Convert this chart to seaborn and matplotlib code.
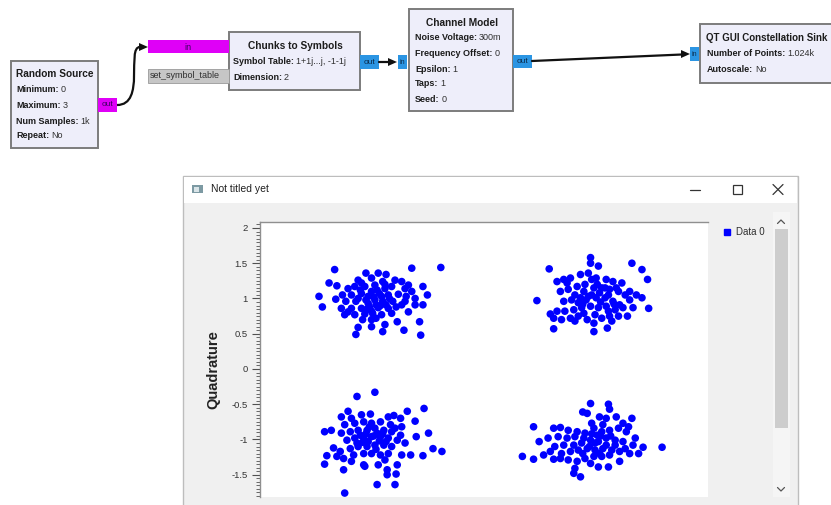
import matplotlib
matplotlib.use("Agg")
import matplotlib.pyplot as plt
import seaborn as sns
import pandas as pd
from matplotlib.patches import Rectangle, Polygon, PathPatch
from matplotlib.path import Path
from matplotlib.lines import Line2D
from matplotlib.ticker import MultipleLocator

# ---------------- data ----------------
# upper-left cluster (symbol -1+1j)
ul_i = [-1.35, -0.66, -0.40, -1.49, -1.46, -1.40, -1.33, -1.34, -1.16, -1.14, -0.92, -0.79, -0.73, -0.58,
        -0.59, -0.52, -0.56, -0.63, -0.56, -0.69, -0.90, -1.02,
        -1.07, -0.96, -0.89, -1.14, -1.02, -0.92, -0.81, -0.75, -1.23, -1.17, -1.08, -0.99, -0.90, -0.84,
        -0.72, -0.66, -1.28, -1.20, -1.11, -1.02, -0.95, -0.87, -0.78, -0.71, -1.25, -1.16, -1.07, -0.99,
        -0.92, -0.83, -0.75, -1.29, -1.20, -1.11, -1.04, -0.96, -0.87, -0.80, -1.26, -1.17, -1.08, -1.01,
        -0.93, -0.84, -1.10, -1.02, -0.98, -1.14, -1.05, -0.93, -0.98, -0.89, -1.07, -1.23, -0.72, -0.63,
        -0.69, -1.11, -1.00, -0.97, -1.05, -0.94, -1.12, -0.86, -1.02, -0.90]
ul_q = [1.41, 1.43, 1.44, 1.03, 0.88, 1.22, 1.18, 0.99, 0.49, 0.59, 0.53, 0.67, 0.55, 0.48,
        0.67, 1.05, 1.17, 0.91, 0.91, 0.81, 0.63, 0.60,
        1.36, 1.36, 1.34, 1.26, 1.29, 1.24, 1.26, 1.24, 1.14, 1.17, 1.17, 1.19, 1.14, 1.17,
        1.14, 1.10, 1.05, 1.05, 1.07, 1.10, 1.07, 1.05, 1.06, 1.03, 0.96, 0.96, 0.98, 0.98,
        0.96, 0.96, 0.91, 0.86, 0.86, 0.86, 0.88, 0.87, 0.86, 0.88, 0.77, 0.77, 0.78, 0.79,
        0.77, 0.79, 0.70, 0.70, 0.72, 1.00, 1.03, 1.03, 0.91, 0.91, 0.84, 0.81, 0.96, 1.00,
        1.19, 1.22, 1.02, 1.12, 0.93, 0.90, 1.12, 1.00, 0.82, 1.20]

# upper-right cluster (symbol 1+1j)
ur_i = [0.94, 0.57, 1.31, 1.40, 1.45, 0.46, 1.46, 0.61, 0.97, 1.09, 1.27, 1.19, 0.58, 0.94, 1.01,
        0.64, 0.70, 0.76, 0.85, 0.92, 0.99, 1.08, 1.14, 1.22, 1.29, 1.35, 1.40, 0.67, 0.74, 0.82,
        0.89, 0.97, 1.04, 1.11, 1.19, 1.25, 0.70, 0.77, 0.85, 0.92, 0.99, 1.07, 1.14, 1.20, 1.29,
        0.64, 0.71, 0.79, 0.86, 0.94, 1.01, 1.08, 1.16, 1.23, 0.61, 0.68, 0.76, 0.83, 0.91, 0.97,
        1.04, 1.11, 0.80, 0.88, 1.02, 0.95, 1.07, 0.88, 0.83, 0.98, 1.10, 1.17, 0.73, 1.32, 1.13,
        0.95, 1.03, 0.90, 1.10, 0.80, 1.00, 0.87, 1.15]
ur_q = [1.58, 1.42, 1.50, 1.41, 1.27, 0.97, 0.86, 0.57, 0.53, 0.58, 0.75, 0.75, 0.78, 1.50, 1.46,
        1.24, 1.27, 1.29, 1.34, 1.36, 1.29, 1.27, 1.24, 1.22, 1.10, 1.05, 1.01, 1.10, 1.13, 1.17,
        1.20, 1.15, 1.15, 1.13, 1.10, 1.05, 0.96, 0.98, 1.01, 1.03, 1.01, 1.01, 0.96, 0.91, 0.98,
        0.82, 0.82, 0.84, 0.87, 0.89, 0.87, 0.89, 0.84, 0.87, 0.72, 0.70, 0.72, 0.75, 0.70, 0.65,
        0.72, 0.75, 0.68, 0.79, 1.08, 1.27, 1.15, 1.10, 0.94, 0.77, 0.82, 1.15, 1.22, 0.87, 0.68,
        1.05, 0.95, 0.98, 1.05, 1.05, 1.20, 0.92, 0.92]

# lower-left cluster (symbol -1-1j)
ll_i = [-0.99, -1.15, -0.55, -1.44, -1.38, -1.36, -1.42, -1.44, -1.27, -0.97, -0.81, -1.26, -0.39, -0.47,
        -0.56, -0.51, -0.62, -0.63, -0.70, -0.67, -0.88, -0.80, -1.08, -1.23,
        -1.29, -1.20, -1.11, -1.03, -0.87, -0.82, -0.76, -1.26, -1.17, -1.09, -1.02, -0.94, -0.85, -0.75,
        -1.29, -1.21, -1.14, -1.06, -0.99, -0.91, -0.84, -0.76, -1.24, -1.17, -1.09, -1.02, -0.94, -0.87,
        -0.79, -0.72, -1.30, -1.21, -1.14, -1.06, -0.99, -0.91, -0.84, -0.75, -1.27, -1.18, -1.09, -1.02,
        -0.94, -0.87, -0.79, -1.09, -0.96, -0.88, -1.12, -0.97, -1.05, -0.90, -1.20, -1.33, -0.81, -1.15,
        -1.00, -0.95, -1.07, -0.92, -1.10, -0.98, -1.04, -0.89]
ll_q = [-0.33, -0.39, -0.56, -0.89, -0.87, -1.12, -1.23, -1.35, -1.43, -1.64, -1.64, -1.76, -1.17, -1.13,
        -1.23, -0.91, -0.96, -0.74, -0.60, -1.22, -1.50, -1.49, -1.38, -0.60,
        -0.68, -0.70, -0.65, -0.64, -0.68, -0.66, -0.70, -0.79, -0.77, -0.75, -0.77, -0.75, -0.79, -0.82,
        -0.91, -0.89, -0.87, -0.87, -0.84, -0.87, -0.89, -0.94, -1.01, -0.98, -0.98, -0.96, -0.96, -0.98,
        -1.01, -1.05, -1.17, -1.13, -1.10, -1.10, -1.08, -1.08, -1.10, -1.22, -1.27, -1.22, -1.20, -1.20,
        -1.22, -1.20, -1.36, -1.36, -1.36, -1.43, -0.94, -0.91, -1.03, -1.29, -1.31, -1.24, -0.84, -1.05,
        -0.95, -1.02, -0.92, -0.92, -1.04, -1.14, -0.82, -1.03]

# lower-right cluster (symbol 1-1j)
lr_i = [0.94, 1.10, 0.87, 1.11, 0.43, 0.33, 0.43, 0.52, 0.61, 1.58, 1.41, 1.31, 1.20, 0.85, 0.79, 0.48, 0.56,
        0.61, 0.67, 0.74, 0.82, 0.95, 1.02, 1.08, 1.17, 1.23, 1.28, 0.65, 0.73, 0.80, 0.89, 0.97, 1.04,
        1.11, 1.19, 1.26, 1.34, 0.62, 0.70, 0.79, 0.86, 0.94, 1.01, 1.08, 1.16, 1.23, 1.32, 0.68, 0.76,
        0.83, 0.91, 0.98, 1.05, 1.13, 1.20, 1.29, 0.74, 0.82, 0.89, 0.97, 1.04, 1.11, 0.80, 1.01, 1.10,
        0.94, 0.88, 1.05, 0.91, 1.00, 1.16, 1.25, 0.67, 0.58, 1.37,
        0.98, 1.03, 0.93, 1.08, 0.95, 1.12, 0.87, 1.02]
lr_q = [-0.49, -0.50, -0.61, -0.57, -0.82, -1.24, -1.28, -1.22, -1.28, -1.11, -1.11, -0.70, -1.31, -1.53, -1.48, -1.03, -0.98,
        -0.84, -0.83, -0.87, -0.89, -0.77, -0.68, -0.70, -0.68, -0.77, -0.82, -0.96, -0.98, -0.96, -0.91, -0.84, -0.89,
        -0.87, -0.84, -0.89, -0.98, -1.10, -1.08, -1.08, -1.05, -1.01, -1.03, -0.98, -1.01, -1.03, -1.08, -1.20, -1.17,
        -1.15, -1.13, -1.15, -1.13, -1.15, -1.17, -1.20, -1.29, -1.31, -1.27, -1.24, -1.24, -1.22, -1.41, -1.39, -1.39,
        -1.34, -0.98, -0.79, -0.63, -0.94, -1.08, -1.13, -1.27, -1.17, -1.20,
        -1.05, -0.95, -1.10, -1.08, -0.92, -0.95, -1.20, -1.20]

series_name = "Data 0"
y_ticks = [-1.5, -1.0, -0.5, 0.0, 0.5, 1.0, 1.5, 2.0]
y_tick_labels = ["-1.5", "-1", "-0.5", "0", "0.5", "1", "1.5", "2"]
y_label = "Quadrature"
window_title = "Not titled yet"

df = pd.DataFrame({
    "I": ul_i + ur_i + ll_i + lr_i,
    "Q": ul_q + ur_q + ll_q + lr_q,
})
df["series"] = series_name

# ---------------- figure ----------------
sns.set_theme(style="white")
plt.rcParams["font.family"] = ["Liberation Sans", "DejaVu Sans"]

W, H = 831, 505
fig = plt.figure(figsize=(W / 100, H / 100), dpi=100)
fig.patch.set_facecolor("white")

bg = fig.add_axes([0, 0, 1, 1], zorder=0)
bg.set_xlim(0, W)
bg.set_ylim(H, 0)
bg.axis("off")
renderer = fig.canvas.get_renderer()

TXT = "#1c1c1c"


def rect(x0, y0, x1, y1, fc, ec="none", lw=0.0, z=1):
    bg.add_patch(Rectangle((x0, y0), x1 - x0, y1 - y0, facecolor=fc, edgecolor=ec, linewidth=lw, zorder=z))


def kv(x, y, key, val, size=6.5):
    t = bg.text(x, y, key, fontsize=size, fontweight="bold", va="center", ha="left", color=TXT, zorder=5)
    bb = t.get_window_extent(renderer)
    bg.text(bb.x1 + 2, y, val, fontsize=size, va="center", ha="left", color="#303030", zorder=5)


def arrow_head(tx, ty, length=9, half=4):
    bg.add_patch(Polygon([(tx, ty), (tx - length, ty - half), (tx - length, ty + half)],
                         closed=True, facecolor="#111111", edgecolor="none", zorder=4))


BLOCK_FC = "#eeeefa"
BLOCK_EC = "#7c7c7c"
MAG = "#df00f7"
BLUE = "#2b95e3"

# --- Random Source ---
rect(11, 61, 98, 148, BLOCK_FC, BLOCK_EC, 1.4, z=2)
bg.text(16, 74, "Random Source", fontsize=7.3, fontweight="bold", va="center", ha="left", color=TXT, zorder=5)
kv(16, 90, "Minimum:", "0")
kv(16, 105, "Maximum:", "3")
kv(16, 121, "Num Samples:", "1k")
kv(16, 136, "Repeat:", "No")
rect(98, 98, 117, 112, MAG, z=3)
bg.text(107.5, 105, "out", fontsize=6, va="center", ha="center", color="#3a0060", zorder=5)

# connection Random Source -> Chunks (S curve)
path = Path([(117, 105), (146, 105), (126, 47), (140, 47)],
            [Path.MOVETO, Path.CURVE4, Path.CURVE4, Path.CURVE4])
bg.add_patch(PathPatch(path, facecolor="none", edgecolor="#111111", linewidth=1.6, zorder=4))
arrow_head(148, 47)

# in bar + set_symbol_table
rect(148, 40, 229, 53, MAG, z=3)
bg.text(188, 47, "in", fontsize=6.5, va="center", ha="center", color="#3a0060", zorder=5)
rect(148, 69, 229, 83, "#c6c6c6", "#9a9a9a", 0.6, z=3)
bg.text(150, 76, "set_symbol_table", fontsize=6.5, va="center", ha="left", color="#303030", zorder=5)

# --- Chunks to Symbols ---
rect(229, 32, 360, 90, BLOCK_FC, BLOCK_EC, 1.4, z=2)
bg.text(295, 46, "Chunks to Symbols", fontsize=7.3, fontweight="bold", va="center", ha="center", color=TXT, zorder=5)
kv(233, 62, "Symbol Table:", "1+1j...j, -1-1j")
kv(233, 77, "Dimension:", "2")
rect(360, 55, 379, 69, BLUE, z=3)
bg.text(369.5, 62, "out", fontsize=6, va="center", ha="center", color="#0a2a4a", zorder=5)
bg.plot([379, 390], [62, 62], color="#111111", lw=1.6, zorder=4)
arrow_head(397, 62)
rect(398, 55, 407, 69, BLUE, z=3)
bg.text(402.5, 62, "in", fontsize=5, va="center", ha="center", color="#0a2a4a", zorder=5)

# --- Channel Model ---
rect(409, 9, 513, 111, BLOCK_FC, BLOCK_EC, 1.4, z=2)
bg.text(462, 23, "Channel Model", fontsize=7.3, fontweight="bold", va="center", ha="center", color=TXT, zorder=5)
kv(415, 38, "Noise Voltage:", "300m")
kv(415, 53, "Frequency Offset:", "0")
kv(415, 69, "Epsilon:", "1")
kv(415, 84, "Taps:", "1")
kv(415, 100, "Seed:", "0")
rect(513, 55, 532, 68, BLUE, z=3)
bg.text(522.5, 61.5, "out", fontsize=6, va="center", ha="center", color="#0a2a4a", zorder=5)
bg.plot([532, 682], [61, 54.5], color="#111111", lw=1.6, zorder=4)
arrow_head(690, 54)
rect(690, 47, 699, 61, BLUE, z=3)
bg.text(694.5, 54, "in", fontsize=5, va="center", ha="center", color="#0a2a4a", zorder=5)

# --- QT GUI Constellation Sink ---
rect(700, 24, 840, 83, BLOCK_FC, BLOCK_EC, 1.4, z=2)
bg.text(706, 38, "QT GUI Constellation Sink", fontsize=7.0, fontweight="bold", va="center", ha="left", color=TXT, zorder=5)
kv(707, 54, "Number of Points:", "1.024k")
kv(707, 70, "Autoscale:", "No")

# --- Qt window ---
rect(183, 176, 798, 510, "#f0f0f0", "#bdbdbd", 1.0, z=1)
rect(184, 177, 797, 203, "#ffffff", z=1.5)
rect(192, 185, 203, 193, "#7d9aa3", z=2)
rect(194, 186.5, 199, 191.5, "#d9e4e8", z=2.1)
bg.text(211, 189.5, window_title, fontsize=7.5, va="center", ha="left", color="#202020", zorder=5)
bg.plot([690, 700], [189.5, 189.5], color="#333333", lw=0.9, zorder=5)
bg.add_patch(Rectangle((732.5, 184.5), 9.5, 9.5, facecolor="none", edgecolor="#333333", linewidth=0.9, zorder=5))
bg.plot([773, 783], [184.5, 194.5], color="#333333", lw=0.9, zorder=5)
bg.plot([773, 783], [194.5, 184.5], color="#333333", lw=0.9, zorder=5)

# scrollbar
rect(773, 212, 790, 497, "#f5f5f5", z=2)
rect(775, 229, 788, 428, "#cdcdcd", z=3)
bg.plot([777.5, 781, 784.5], [223.5, 220, 223.5], color="#555555", lw=0.9, zorder=4)
bg.plot([777.5, 781, 784.5], [487.5, 491, 487.5], color="#555555", lw=0.9, zorder=4)

# ---------------- constellation plot ----------------
ax = fig.add_axes([260 / W, (H - 497) / H, 448 / W, 275 / H], zorder=3)
sns.scatterplot(data=df, x="I", y="Q", hue="series", palette={series_name: "#0000ff"},
                s=30, linewidth=0, legend=False, ax=ax)
ax.set_facecolor("white")
ax.set_xlim(-2.018, 1.991)
ax.set_ylim(-1.816, 2.085)
ax.set_xticks([])
ax.set_xlabel("")
ax.set_yticks(y_ticks)
ax.set_yticklabels(y_tick_labels)
ax.yaxis.set_minor_locator(MultipleLocator(0.05))
ax.tick_params(axis="y", which="major", left=True, length=6, width=0.8, color="#505050",
               pad=3, labelsize=6.8, labelcolor="#333333")
ax.tick_params(axis="y", which="minor", left=True, length=3, width=0.6, color="#505050")
for side in ["right", "bottom"]:
    ax.spines[side].set_visible(False)
for side in ["left", "top"]:
    ax.spines[side].set_color("#8f8f8f")
    ax.spines[side].set_linewidth(1.0)
ax.set_ylabel(y_label, fontsize=10.5, fontweight="bold", color="#222222")
ax.yaxis.set_label_coords(-0.089, 0.462)

handle = Line2D([], [], marker="s", color="#0000ff", linestyle="none", markersize=5, label=series_name)
fig.legend(handles=[handle], loc="center left", bbox_to_anchor=(718 / W, 1 - 232 / H),
           frameon=False, borderpad=0, handlelength=0.8, handletextpad=0.5,
           prop={"size": 7}, labelcolor="#303030")

fig.savefig("out.png", dpi=100, facecolor="white")
